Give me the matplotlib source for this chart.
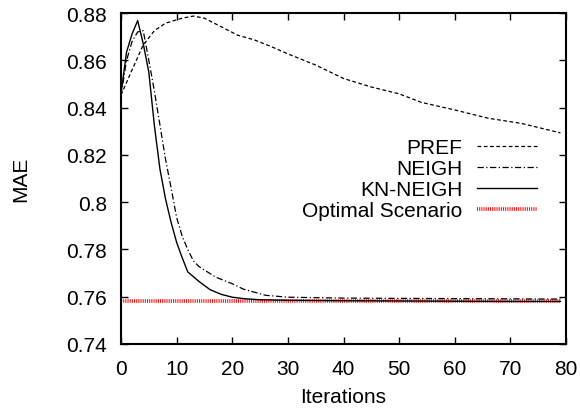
import numpy as np
import matplotlib
matplotlib.use('Agg')
import matplotlib.pyplot as plt
from matplotlib.ticker import FormatStrFormatter

plt.rcParams['font.family'] = ['Liberation Sans', 'DejaVu Sans']

# Values
pref_x = [0, 2, 4, 6, 8, 11, 13, 15, 18, 21, 24, 27, 30, 35, 40, 45, 50, 54, 60, 66, 72, 79]
pref_y = [0.8453, 0.856, 0.8665, 0.8725, 0.8757, 0.8778, 0.8787, 0.8778, 0.8742, 0.8706,
          0.8686, 0.8658, 0.8627, 0.858, 0.8523, 0.8487, 0.8458, 0.8422, 0.839, 0.8355,
          0.8333, 0.8293]

neigh_x = [0, 1, 2, 3, 4, 5, 6, 7, 8, 9, 10, 11, 12, 13, 14, 17, 20, 22, 26, 30, 40, 50, 60, 70, 79]
neigh_y = [0.845, 0.86, 0.868, 0.872, 0.8725, 0.860, 0.847, 0.8326, 0.8182, 0.8061, 0.7935,
           0.7856, 0.780, 0.7752, 0.7728, 0.7683, 0.7655, 0.7632, 0.7606, 0.7598, 0.7594,
           0.7593, 0.7592, 0.7591, 0.759]

kn_x = [0, 1, 2, 3, 4, 5, 6, 7, 8, 9, 10, 11, 12, 14, 16, 18, 20, 22, 25, 30, 40, 50, 60, 70, 79]
kn_y = [0.846, 0.8635, 0.8712, 0.8768, 0.867, 0.855, 0.8324, 0.814, 0.8014, 0.7915, 0.783,
        0.7765, 0.7705, 0.7665, 0.763, 0.761, 0.7598, 0.7592, 0.7587, 0.7585, 0.7583,
        0.7582, 0.7581, 0.758, 0.758]

opt_x = [0, 79]
opt_y = [0.758, 0.758]

fig = plt.figure(figsize=(5.8, 4.1), dpi=100)
ax = fig.add_axes([121 / 580, 1 - 345 / 410, 445 / 580, 331 / 410])

ax.plot(pref_x, pref_y, color='black', lw=0.9, linestyle=(0, (3, 2)), label='PREF')
ax.plot(neigh_x, neigh_y, color='black', lw=0.9, linestyle=(0, (5, 2, 1, 2)), label='NEIGH')
ax.plot(kn_x, kn_y, color='black', lw=1.0, label='KN-NEIGH')
ax.plot(opt_x, opt_y, color='#ff1010', lw=2.6, linestyle=(0, (0.3, 0.3)),
        label='Optimal Scenario', zorder=1)

ax.set_xlim(0, 80)
ax.set_ylim(0.74, 0.88)
ax.set_xticks(np.arange(0, 81, 10))
ax.set_yticks(np.arange(0.74, 0.8801, 0.02))
ax.yaxis.set_major_formatter(FormatStrFormatter('%g'))
ax.tick_params(direction='in', length=5, width=1.0, top=True, right=True, labelsize=15)
ax.tick_params(axis='x', pad=11)
ax.tick_params(axis='y', pad=10)
for s in ax.spines.values():
    s.set_linewidth(1.5)

ax.set_xlabel('Iterations', fontsize=15)
ax.set_ylabel('MAE', fontsize=15)
ax.xaxis.set_label_coords(0.5, -0.13)
ax.yaxis.set_label_coords(-0.205, 0.5)

leg = ax.legend(loc='upper right', bbox_to_anchor=(537 / 580, 1 - 139 / 410),
                bbox_transform=fig.transFigure, frameon=False, markerfirst=False,
                fontsize=15, handlelength=2.9, handletextpad=0.67, labelspacing=0.1,
                borderpad=0, borderaxespad=0)

fig.savefig('out.png', dpi=100)
